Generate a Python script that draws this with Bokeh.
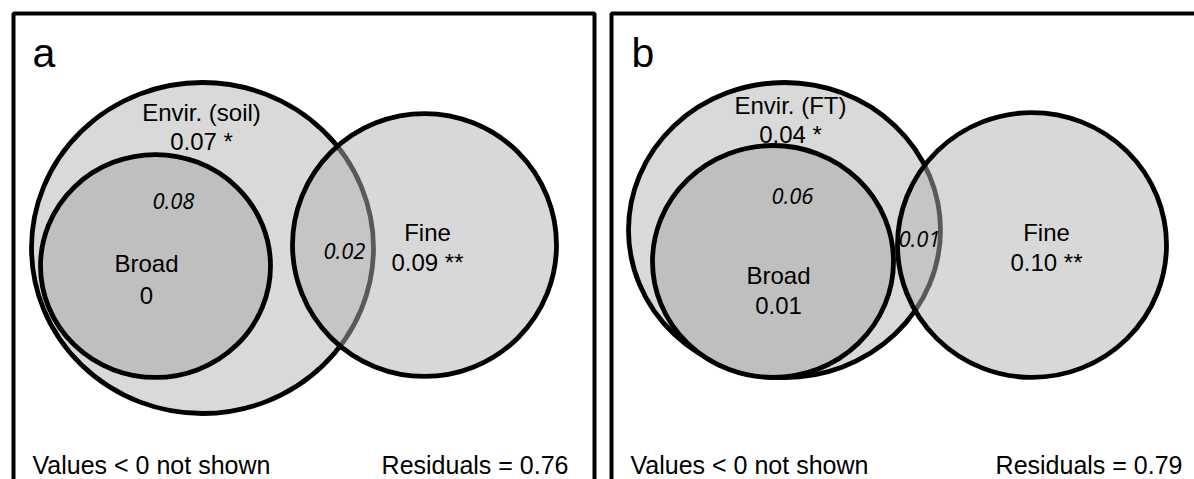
from bokeh.plotting import figure
from bokeh.models import Range1d, ColumnDataSource
from bokeh.core.properties import value
from bokeh.embed import file_html
from bokeh.resources import INLINE

# ---- data (variation partitioning results) ----
panel_labels = ["a", "b"]
env_names = ["Envir. (soil)", "Envir. (FT)"]
env_unique = ["0.07 *", "0.04 *"]
broad_unique = ["0", "0.01"]
fine_unique = ["0.09 **", "0.10 **"]
env_broad_shared = ["0.08", "0.06"]
env_fine_shared = ["0.02", "0.01"]
residuals = [0.76, 0.79]

# ---- layout (pixel geometry of the two panels) ----
W, H = 1194, 479
frame_left = [13, 611]
frame_right = [594, 1230]
frame_top = 13
frame_bottom = 520

env_geo = dict(x=[202, 784], y=[247.5, 229.5], w=[342, 312], h=[331, 295])
broad_geo = dict(x=[155, 772.5], y=[265.5, 261], w=[230, 241], h=[223, 232])
fine_geo = dict(x=[424, 1031.5], y=[244.5, 244.5], w=[264, 269], h=[263, 265])

env_lbl_xy = [(201, 112, 141), (790, 105, 134)]
eb_xy = [(173, 200), (792, 195)]
broad_lbl_xy = [(146, 263, 295), (778, 275, 305)]
ef_xy = [(344, 250), (919, 238)]
fine_lbl_xy = [(427, 232, 262), (1046, 232, 262)]
panel_lbl_x = [32, 631]
values_x = [32, 630]
resid_x = [568, 1182]

p = figure(width=W, height=H, x_range=Range1d(0, W), y_range=Range1d(H, 0),
           output_backend="svg", toolbar_location=None, min_border=0)
p.axis.visible = False
p.grid.visible = False
p.outline_line_color = None
p.background_fill_color = "white"
p.border_fill_color = "white"

# frames
p.quad(left=frame_left, right=frame_right, top=[frame_top] * 2, bottom=[frame_bottom] * 2,
       fill_color=None, line_color="black", line_width=4)

lw = 4.8
p.ellipse(x=env_geo["x"], y=env_geo["y"], width=env_geo["w"], height=env_geo["h"],
          fill_color="#d9d9d9", line_color="black", line_width=lw)
p.ellipse(x=broad_geo["x"], y=broad_geo["y"], width=broad_geo["w"], height=broad_geo["h"],
          fill_color="#bfbfbf", line_color="black", line_width=lw)
p.ellipse(x=fine_geo["x"], y=fine_geo["y"], width=fine_geo["w"], height=fine_geo["h"],
          fill_color="#b2b2b2", fill_alpha=0.5, line_color="black", line_alpha=1.0, line_width=lw)

font = value("Liberation Sans")
ifont = value("Open Sans")

def txt(xs, ys, texts, size, align="center", italic=False):
    src = ColumnDataSource(dict(x=xs, y=ys, t=texts))
    p.text(x="x", y="y", text="t", source=src, text_align=align, text_baseline="middle",
           text_font=ifont if italic else font, text_font_size=size,
           text_font_style="italic" if italic else "normal", text_color="black")

# panel letters
txt(panel_lbl_x, [52, 52], panel_labels, "41px", align="left")
# set names and unique fractions
txt([e[0] for e in env_lbl_xy], [e[1] for e in env_lbl_xy], env_names, "24px")
txt([e[0] for e in env_lbl_xy], [e[2] for e in env_lbl_xy], env_unique, "24px")
txt([b[0] for b in broad_lbl_xy], [b[1] for b in broad_lbl_xy], ["Broad", "Broad"], "24px")
txt([b[0] for b in broad_lbl_xy], [b[2] for b in broad_lbl_xy], broad_unique, "24px")
txt([f[0] for f in fine_lbl_xy], [f[1] for f in fine_lbl_xy], ["Fine", "Fine"], "24px")
txt([f[0] for f in fine_lbl_xy], [f[2] for f in fine_lbl_xy], fine_unique, "24px")
# shared fractions
txt([e[0] for e in eb_xy], [e[1] for e in eb_xy], env_broad_shared, "22px", italic=True)
txt([e[0] for e in ef_xy], [e[1] for e in ef_xy], env_fine_shared, "22px", italic=True)
# footers
txt(values_x, [464, 464], ["Values < 0 not shown"] * 2, "25px", align="left")
txt(resid_x, [464, 464], [f"Residuals = {r:.2f}" for r in residuals], "25px", align="right")

open("out.html", "w").write(file_html(p, INLINE))
